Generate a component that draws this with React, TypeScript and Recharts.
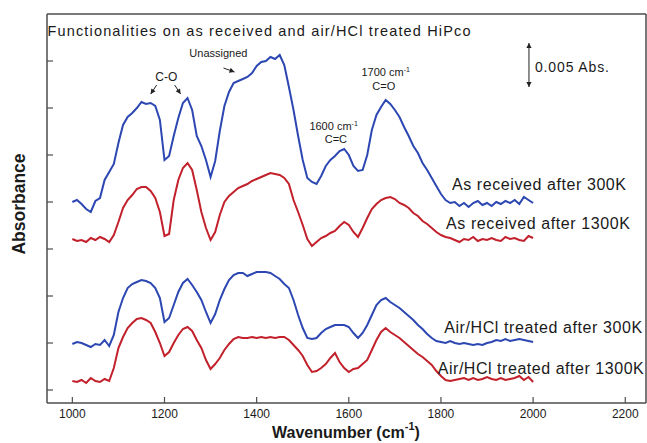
import React from 'react';
import { LineChart, Line, XAxis, YAxis, ReferenceDot, ReferenceLine } from 'recharts';

// Wavenumber grid (cm^-1)
const wavenumbers = [
  1000, 1010, 1020, 1030, 1040, 1050, 1060, 1070, 1080, 1090,
  1100, 1110, 1120, 1130, 1140, 1150, 1160, 1170, 1180, 1190,
  1200, 1210, 1220, 1230, 1240, 1250, 1260, 1270, 1280, 1290,
  1300, 1310, 1320, 1330, 1340, 1350, 1360, 1370, 1380, 1390,
  1400, 1410, 1420, 1430, 1440, 1450, 1460, 1470, 1480, 1490,
  1500, 1510, 1520, 1530, 1540, 1550, 1560, 1570, 1580, 1590,
  1600, 1610, 1620, 1630, 1640, 1650, 1660, 1670, 1680, 1690,
  1700, 1710, 1720, 1730, 1740, 1750, 1760, 1770, 1780, 1790,
  1800, 1810, 1820, 1830, 1840, 1850, 1860, 1870, 1880, 1890,
  1900, 1910, 1920, 1930, 1940, 1950, 1960, 1970, 1980, 1990,
  2000,
];

// Offset absorbance (arbitrary units, 44 a.u. = 0.005 Abs)
const asReceived300K = [
  188, 190, 186, 181, 178, 189, 192, 210, 218, 226,
  247, 265, 273, 277, 282, 288, 286, 287, 284, 270,
  230, 234, 254, 272, 287, 292, 280, 254, 244, 230,
  213, 229, 259, 284, 298, 307, 309, 311, 313, 317,
  324, 328, 329, 333, 331, 335, 325, 303, 280, 254,
  230, 212, 208, 206, 214, 224, 230, 234, 239, 241,
  235, 224, 219, 220, 235, 260, 275, 283, 290, 286,
  280, 273, 263, 254, 244, 237, 227, 220, 212, 204,
  196, 190, 187, 188, 184, 187, 183, 187, 189, 185,
  187, 184, 188, 186, 189, 187, 190, 186, 193, 190,
  187,
];
const asReceived1300K = [
  151, 149, 150, 148, 152, 150, 153, 151, 148, 155,
  168, 182, 190, 195, 201, 203, 203, 199, 192, 178,
  154, 156, 190, 210, 222, 227, 220, 200, 178, 162,
  150, 158, 175, 188, 194, 198, 202, 204, 206, 209,
  211, 213, 215, 217, 216, 215, 212, 206, 190, 178,
  165, 151, 144, 148, 152, 154, 157, 159, 164, 168,
  165, 158, 153, 162, 172, 181, 186, 190, 192, 193,
  191, 187, 185, 182, 177, 174, 169, 166, 162, 158,
  155, 153, 152, 150, 148, 151, 150, 153, 149, 151,
  150, 152, 150, 149, 153, 151, 152, 150, 149, 154,
  152,
];
const airHCl300K = [
  46, 48, 47, 45, 43, 46, 45, 50, 44, 55,
  78, 92, 102, 106, 108, 110, 109, 107, 102, 92,
  68, 72, 85, 98, 107, 111, 105, 98, 90, 78,
  67, 76, 90, 101, 110, 115, 117, 117, 114, 116,
  118, 118, 118, 117, 114, 111, 106, 102, 90, 75,
  62, 52, 51, 52, 57, 61, 63, 65, 65, 65,
  63, 57, 52, 57, 65, 75, 85, 90, 92, 88,
  85, 82, 78, 74, 70, 65, 61, 56, 52, 49,
  48, 47, 49, 47, 46, 47, 46, 45, 46, 45,
  47, 48, 50, 49, 51, 49, 50, 51, 50, 49,
  48,
];
const airHCl1300K = [
  9, 8, 10, 7, 12, 9, 8, 11, 9, 22,
  42, 53, 62, 67, 71, 72, 70, 67, 58, 47,
  34, 38, 47, 55, 61, 63, 59, 50, 42, 30,
  21, 26, 32, 40, 46, 51, 53, 52, 52, 53,
  52, 53, 52, 53, 52, 53, 53, 50, 45, 40,
  34, 25, 18, 19, 22, 26, 32, 37, 28, 22,
  18, 21, 22, 26, 30, 40, 50, 58, 62, 58,
  55, 52, 48, 44, 40, 36, 33, 29, 25, 19,
  14, 10, 9, 10, 11, 12, 10, 12, 10, 11,
  13, 11, 10, 12, 10, 11, 12, 14, 10, 13,
  8,
];

const xTicks = [1000, 1200, 1400, 1600, 1800, 2000, 2200];
const yTicks = [0, 47, 94, 141, 188, 235, 282, 329];
const xDomain = [945, 2245];
const yDomain = [-13, 376];

const seriesLabels = [
  'As received after 300K',
  'As received after 1300K',
  'Air/HCl treated after 300K',
  'Air/HCl treated after 1300K',
];

const data = wavenumbers.map((wn, i) => ({
  wn,
  ar300: asReceived300K[i],
  ar1300: asReceived1300K[i],
  air300: airHCl300K[i],
  air1300: airHCl1300K[i],
}));

const FONT = '"Liberation Sans", Arial, Helvetica, sans-serif';
const AXIS = '#4d4d4d';
const BLUE = '#2c47b2';
const RED = '#c2202b';
const TXT = '#1a1a1a';

const BottomTick = (p: any) => (
  <g>
    <line x1={p.x} x2={p.x} y1={p.y} y2={p.y - 6} stroke={AXIS} strokeWidth={1.2} />
    <text x={p.x} y={p.y + 15} textAnchor="middle" fontSize={12} fontFamily={FONT} fill={TXT}>
      {p.payload.value}
    </text>
  </g>
);
const TopTick = (p: any) => (
  <line x1={p.x} x2={p.x} y1={p.y} y2={p.y + 6} stroke={AXIS} strokeWidth={1.2} />
);
const LeftTick = (p: any) => (
  <line x1={p.x} x2={p.x + 6} y1={p.y} y2={p.y} stroke={AXIS} strokeWidth={1.2} />
);
const RightTick = (p: any) => (
  <line x1={p.x} x2={p.x - 6} y1={p.y} y2={p.y} stroke={AXIS} strokeWidth={1.2} />
);

const textNote = (
  key: string,
  x: number,
  y: number,
  content: React.ReactNode,
  size: number,
  anchor: 'start' | 'middle' | 'end' = 'middle',
  textLength?: number,
) => (
  <ReferenceDot
    key={key}
    x={x}
    y={y}
    r={0}
    ifOverflow="visible"
    shape={(p: any) => (
      <text
        x={p.cx}
        y={p.cy}
        textAnchor={anchor}
        fontSize={size}
        fontFamily={FONT}
        fill={TXT}
        textLength={textLength}
        lengthAdjust={textLength ? 'spacing' : undefined}
      >
        {content}
      </text>
    )}
  />
);

const head = (x: number, y: number, ang: number) => {
  const l = 5;
  const w = 2.6;
  const bx = x - l * Math.cos(ang);
  const by = y - l * Math.sin(ang);
  const px = -Math.sin(ang) * w;
  const py = Math.cos(ang) * w;
  return `${x},${y} ${bx + px},${by + py} ${bx - px},${by - py}`;
};

const arrowNote = (key: string, from: [number, number], to: [number, number], both = false) => (
  <ReferenceLine
    key={key}
    segment={[{ x: from[0], y: from[1] }, { x: to[0], y: to[1] }]}
    ifOverflow="visible"
    shape={(p: any) => {
      const ang = Math.atan2(p.y2 - p.y1, p.x2 - p.x1);
      return (
        <g>
          <line x1={p.x1} y1={p.y1} x2={p.x2} y2={p.y2} stroke="#222" strokeWidth={1} />
          <polygon points={head(p.x2, p.y2, ang)} fill="#222" />
          {both && <polygon points={head(p.x1, p.y1, ang + Math.PI)} fill="#222" />}
        </g>
      );
    }}
  />
);

const sup = (base: string, s: string) => (
  <>
    {base}
    <tspan fontSize={7} dy={-4}>{s}</tspan>
  </>
);

export default function App() {
  return (
    <div style={{ position: 'absolute', left: 0, top: 0, width: 647, height: 443, background: '#fff' }}>
      <LineChart
        width={647}
        height={443}
        data={data}
        margin={{ top: 13, right: 0, bottom: 0, left: 0 }}
      >
        <XAxis
          dataKey="wn"
          type="number"
          domain={xDomain}
          ticks={xTicks}
          interval={0}
          height={40}
          tickSize={0}
          tickMargin={0}
          tick={<BottomTick />}
          tickLine={false}
          axisLine={{ stroke: AXIS, strokeWidth: 1.5 }}
        />
        <XAxis
          xAxisId="top"
          orientation="top"
          type="number"
          domain={xDomain}
          ticks={xTicks}
          interval={0}
          height={1}
          tickSize={0}
          tickMargin={0}
          tick={<TopTick />}
          tickLine={false}
          axisLine={{ stroke: AXIS, strokeWidth: 1.5 }}
        />
        <YAxis
          type="number"
          domain={yDomain}
          ticks={yTicks}
          interval={0}
          width={47}
          tickSize={0}
          tickMargin={0}
          tick={<LeftTick />}
          tickLine={false}
          axisLine={{ stroke: AXIS, strokeWidth: 1.5 }}
        />
        <YAxis
          yAxisId="right"
          orientation="right"
          type="number"
          domain={yDomain}
          ticks={yTicks}
          interval={0}
          width={1}
          tickSize={0}
          tickMargin={0}
          tick={<RightTick />}
          tickLine={false}
          axisLine={{ stroke: AXIS, strokeWidth: 1.5 }}
        />
        <Line type="linear" dataKey="ar300" stroke={BLUE} strokeWidth={2} dot={false} isAnimationActive={false} />
        <Line type="linear" dataKey="ar1300" stroke={RED} strokeWidth={2} dot={false} isAnimationActive={false} />
        <Line type="linear" dataKey="air300" stroke={BLUE} strokeWidth={2} dot={false} isAnimationActive={false} />
        <Line type="linear" dataKey="air1300" stroke={RED} strokeWidth={2} dot={false} isAnimationActive={false} />

        {textNote('t0', 1824, 200, seriesLabels[0], 16, 'start', 174)}
        {textNote('t1', 1811, 161, seriesLabels[1], 16, 'start', 184)}
        {textNote('t2', 1807, 57, seriesLabels[2], 16, 'start', 198)}
        {textNote('t3', 1793, 16, seriesLabels[3], 16, 'start', 206)}

        {textNote('unassigned', 1317, 333, 'Unassigned', 11)}
        {arrowNote('ua', [1328, 322], [1352, 318])}
        {textNote('co', 1204, 309, 'C-O', 12)}
        {arrowNote('co1', [1183, 305], [1170, 296])}
        {arrowNote('co2', [1222, 305], [1235, 296])}
        {textNote('cc1', 1567, 260, sup('1600 cm', '-1'), 11)}
        {textNote('cc2', 1572, 247, 'C=C', 11)}
        {textNote('cdo1', 1680, 314, sup('1700 cm', '-1'), 11)}
        {textNote('cdo2', 1676, 300, 'C=O', 11)}
        {arrowNote('scale', [1991, 347], [1991, 303], true)}
        {textNote('scaleT', 2004, 318, '0.005 Abs.', 14, 'start', 74)}
      </LineChart>
      <svg
        width={647}
        height={443}
        style={{ position: 'absolute', left: 0, top: 0, pointerEvents: 'none' }}
      >
        <text x={47.5} y={36} fontSize={14.5} fontFamily={FONT} fill={TXT} textLength={423} lengthAdjust="spacing">
          Functionalities on as received and air/HCl treated HiPco
        </text>
        <text
          x={0}
          y={0}
          transform="translate(25,204) rotate(-90)"
          textAnchor="middle"
          fontSize={17.5}
          fontWeight="bold"
          fontFamily={FONT}
          fill={TXT}
        >
          Absorbance
        </text>
        <text x={346} y={438} textAnchor="middle" fontSize={16} fontWeight="bold" fontFamily={FONT} fill={TXT}>
          Wavenumber (cm<tspan fontSize={11} dy={-8}>-1</tspan>
          <tspan dy={8}>)</tspan>
        </text>
      </svg>
    </div>
  );
}
